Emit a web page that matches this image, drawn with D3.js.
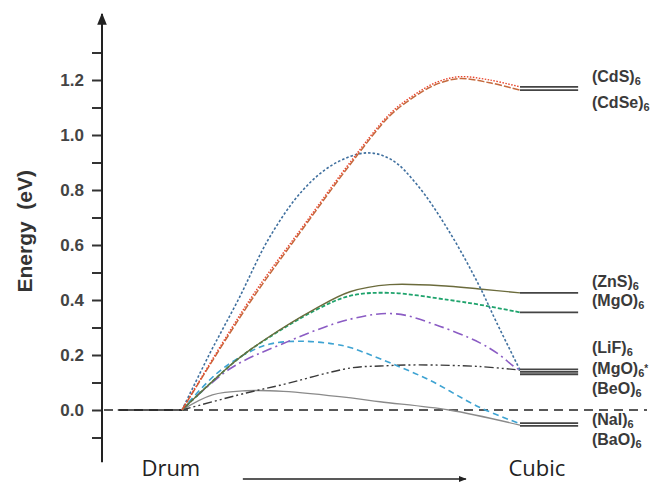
<!DOCTYPE html>
<html>
<head>
<meta charset="utf-8">
<script src="https://cdn.jsdelivr.net/npm/d3@7"></script>
<style>
  body { margin: 0; background: #fff; }
  svg { display: block; }
</style>
</head>
<body>
<div id="chart"></div>
<script>
  // reaction coordinate: 0 = Drum, 1 = Cubic ; values in eV
  var cdsCurve   = [[0,0],[0.2,0.40],[0.358,0.668],[0.497,0.9],[0.615,1.077],[0.68,1.14],[0.75,1.19],[0.82,1.212],[0.91,1.2],[1,1.175]];
  var cdseCurve  = [[0,0],[0.2,0.39],[0.358,0.66],[0.497,0.892],[0.615,1.07],[0.68,1.133],[0.75,1.183],[0.82,1.205],[0.91,1.19],[1,1.163]];
  var blueCurve  = [[0,0],[0.08,0.2],[0.166,0.40],[0.26,0.63],[0.358,0.80],[0.45,0.895],[0.547,0.935],[0.62,0.91],[0.695,0.82],[0.79,0.65],[0.88,0.45],[0.93,0.32],[1,0.145]];
  var znsCurve   = [[0,0],[0.16,0.18],[0.25,0.26],[0.39,0.365],[0.497,0.43],[0.615,0.456],[0.79,0.45],[0.88,0.44],[1,0.426]];
  var mgoCurve   = [[0,0],[0.16,0.18],[0.25,0.258],[0.39,0.36],[0.497,0.415],[0.615,0.426],[0.79,0.40],[0.88,0.383],[1,0.355]];
  var purpleCurve= [[0,0],[0.142,0.15],[0.29,0.237],[0.497,0.33],[0.63,0.35],[0.75,0.31],[0.88,0.245],[0.94,0.2],[0.98,0.16],[1,0.145]];
  var cyanCurve  = [[0,0],[0.1,0.13],[0.19,0.205],[0.26,0.24],[0.35,0.25],[0.45,0.24],[0.5,0.226],[0.586,0.186],[0.73,0.11],[0.88,0.01],[1,-0.05]];
  var darkCurve  = [[0,0],[0.19,0.062],[0.29,0.09],[0.5,0.153],[0.586,0.16],[0.7,0.164],[0.88,0.158],[1,0.145]];
  var grayCurve  = [[0,0],[0.09,0.055],[0.19,0.07],[0.3,0.068],[0.5,0.044],[0.586,0.03],[0.79,0],[1,-0.055]];

  // cubic end levels and their labels
  var levelValues = [1.175, 1.163, 0.426, 0.355, 0.148, 0.139, 0.130, -0.048, -0.058];
  var labelNames  = ["(CdS)", "(CdSe)", "(ZnS)", "(MgO)", "(LiF)", "(MgO)", "(BeO)", "(NaI)", "(BaO)"];
  var labelMarks  = ["", "", "", "", "", "*", "", "", ""];
  var labelY      = [1.193, 1.1, 0.447, 0.378, 0.207, 0.131, 0.058, -0.055, -0.127];

  var majorTicks = [0, 0.2, 0.4, 0.6, 0.8, 1.0, 1.2];
  var allTicks   = d3.range(-1, 14).map(function(d){ return d / 10; });

  var width = 658, height = 483;

  var svg = d3.select("#chart")
              .append("svg")
              .attr("width", width)
              .attr("height", height);

  var x = d3.scaleLinear().domain([0, 1]).range([182, 520]);
  var y = d3.scaleLinear().domain([-0.1, 1.3]).range([437.5, 52.5]);

  //y axis with minor ticks
  var yAxis = d3.axisLeft(y)
                .tickValues(allTicks)
                .tickSize(10)
                .tickSizeOuter(0)
                .tickPadding(8)
                .tickFormat(function(d){
                  return majorTicks.some(function(m){ return Math.abs(m - d) < 1e-6; }) ? d3.format(".1f")(d) : "";
                });

  var gy = svg.append("g")
              .attr("transform", "translate(102,0)")
              .call(yAxis);
  gy.select(".domain").remove();
  gy.selectAll(".tick line").attr("stroke", "#333").attr("stroke-width", 2);
  gy.selectAll(".tick text")
    .attr("fill", "#444")
    .style("font", "bold 17px 'Liberation Sans', Arial, sans-serif");

  svg.append("defs").append("marker")
     .attr("id", "arrow")
     .attr("viewBox", "0 0 10 10")
     .attr("refX", 9).attr("refY", 5)
     .attr("markerWidth", 6).attr("markerHeight", 6)
     .attr("orient", "auto")
     .append("path")
     .attr("d", "M0,1 L10,5 L0,9 Z")
     .attr("fill", "#222");

  svg.append("line")
     .attr("x1", 102).attr("x2", 102)
     .attr("y1", y(-0.19)).attr("y2", 14)
     .attr("stroke", "#222")
     .attr("stroke-width", 2)
     .attr("marker-end", "url(#arrow)");

  svg.append("text")
     .attr("transform", "translate(32," + y(0.65) + ") rotate(-90)")
     .attr("text-anchor", "middle")
     .attr("fill", "#333")
     .style("font", "bold 21px 'Liberation Sans', Arial, sans-serif")
     .style("white-space", "pre")
     .text("Energy  (eV)");

  //zero reference dashed line
  svg.append("line")
     .attr("x1", 104).attr("x2", 647)
     .attr("y1", y(0)).attr("y2", y(0))
     .attr("stroke", "#222")
     .attr("stroke-width", 1.5)
     .attr("stroke-dasharray", "9,6");

  //drum level
  svg.append("line")
     .attr("x1", x(-0.19)).attr("x2", x(0))
     .attr("y1", y(0)).attr("y2", y(0))
     .attr("stroke", "#222")
     .attr("stroke-width", 1.5);

  var line = d3.line()
               .x(function(d){ return x(d[0]); })
               .y(function(d){ return y(d[1]); })
               .curve(d3.curveCatmullRom.alpha(0.5));

  var curves = [
    {data: grayCurve,   color: "#8a8a8a", dash: null,            w: 1.3},
    {data: darkCurve,   color: "#3a3a3a", dash: "9,3,2,3,2,3",   w: 1.4},
    {data: cyanCurve,   color: "#3ea3d2", dash: "6,4",           w: 1.6},
    {data: purpleCurve, color: "#8b5cc4", dash: "10,4,2,4",      w: 1.6},
    {data: mgoCurve,    color: "#1ea36c", dash: "4,2",           w: 1.8},
    {data: znsCurve,    color: "#6b6b3c", dash: null,            w: 1.4},
    {data: blueCurve,   color: "#3f6f9e", dash: "2.5,2",         w: 1.6},
    {data: cdseCurve,   color: "#c56a3e", dash: "7,2",           w: 1.5},
    {data: cdsCurve,    color: "#e8452c", dash: "1.5,1.5",       w: 1.4}
  ];

  svg.selectAll(".curve")
     .data(curves)
     .enter()
     .append("path")
     .attr("class", "curve")
     .attr("d", function(d){ return line(d.data); })
     .attr("fill", "none")
     .attr("stroke", function(d){ return d.color; })
     .attr("stroke-width", function(d){ return d.w; })
     .attr("stroke-dasharray", function(d){ return d.dash; });

  //cubic levels
  svg.selectAll(".level")
     .data(levelValues)
     .enter()
     .append("line")
     .attr("class", "level")
     .attr("x1", x(1)).attr("x2", x(1.172))
     .attr("y1", function(d){ return y(d); })
     .attr("y2", function(d){ return y(d); })
     .attr("stroke", "#444")
     .attr("stroke-width", 1.8);

  var labels = svg.selectAll(".lab")
     .data(labelNames)
     .enter()
     .append("text")
     .attr("class", "lab")
     .attr("x", x(1.213))
     .attr("y", function(d, i){ return y(labelY[i]); })
     .attr("fill", "#3a3a3a")
     .style("font", "bold 16px 'Liberation Sans', Arial, sans-serif");
  labels.append("tspan").text(function(d){ return d; });
  labels.append("tspan")
        .attr("dy", 3)
        .style("font-size", "11px")
        .text("6");
  labels.append("tspan")
        .attr("dy", -5)
        .style("font-size", "10px")
        .text(function(d, i){ return labelMarks[i]; });

  //bottom labels
  svg.append("text")
     .attr("x", x(-0.033)).attr("y", 476)
     .attr("text-anchor", "middle")
     .attr("fill", "#222")
     .style("font", "22px 'Open Sans', sans-serif")
     .text("Drum");
  svg.append("text")
     .attr("x", x(1.05)).attr("y", 476)
     .attr("text-anchor", "middle")
     .attr("fill", "#222")
     .style("font", "22px 'Open Sans', sans-serif")
     .text("Cubic");

  svg.append("line")
     .attr("x1", x(0.18)).attr("x2", x(0.84))
     .attr("y1", 479).attr("y2", 479)
     .attr("stroke", "#222")
     .attr("stroke-width", 1.3)
     .attr("marker-end", "url(#arrow)");
</script>
</body>
</html>
